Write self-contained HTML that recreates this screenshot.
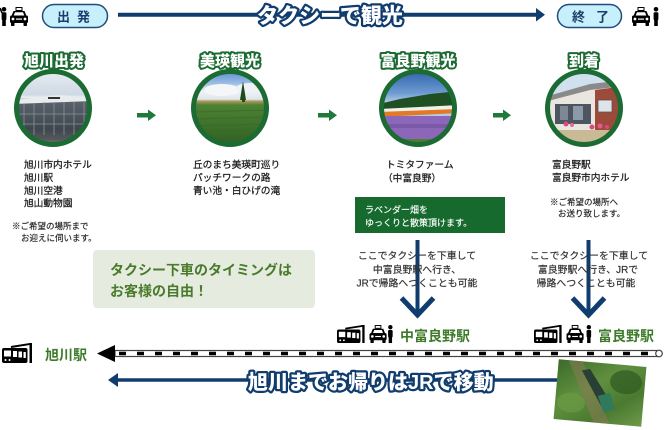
<!DOCTYPE html>
<html><head><meta charset="utf-8"><style>
html,body{margin:0;padding:0;background:#fff;}
svg{display:block;}
text{font-family:"Liberation Sans","Noto Sans CJK JP",sans-serif;}
</style></head><body>
<svg width="664" height="430" viewBox="0 0 664 430" xmlns="http://www.w3.org/2000/svg">
<defs>
<clipPath id="c1"><circle cx="53" cy="108" r="36.5"/></clipPath>
<clipPath id="c2"><circle cx="230" cy="108" r="36.5"/></clipPath>
<clipPath id="c3"><circle cx="418" cy="108" r="36.5"/></clipPath>
<clipPath id="c4"><circle cx="584" cy="108" r="36.5"/></clipPath>
<linearGradient id="g1" x1="0" y1="0" x2="0" y2="1">
<stop offset="0" stop-color="#e9eff5"/><stop offset="0.32" stop-color="#cfd9e4"/>
<stop offset="0.36" stop-color="#eef0f2"/><stop offset="0.40" stop-color="#5b636c"/>
<stop offset="0.75" stop-color="#3f464e"/><stop offset="0.88" stop-color="#55585b"/><stop offset="1" stop-color="#9a9b9a"/>
</linearGradient>
<linearGradient id="g2" x1="0" y1="0" x2="0" y2="1">
<stop offset="0" stop-color="#4f86cc"/><stop offset="0.18" stop-color="#9cbde6"/>
<stop offset="0.28" stop-color="#eef2f6"/><stop offset="0.38" stop-color="#dfe6ea"/>
<stop offset="0.40" stop-color="#b49a62"/><stop offset="0.45" stop-color="#4c8233"/>
<stop offset="1" stop-color="#2e5d22"/>
</linearGradient>
<linearGradient id="g3" x1="0" y1="0" x2="0" y2="1">
<stop offset="0" stop-color="#2b5ea6"/><stop offset="0.3" stop-color="#6d9bd2"/>
<stop offset="0.42" stop-color="#b4cde6"/><stop offset="1" stop-color="#b4cde6"/>
</linearGradient>
<linearGradient id="g5" x1="0" y1="0" x2="1" y2="1">
<stop offset="0" stop-color="#3d6b2a"/><stop offset="0.4" stop-color="#5f8f3e"/>
<stop offset="0.7" stop-color="#4a7a30"/><stop offset="1" stop-color="#6f9a4a"/>
</linearGradient>
<g id="taxi">
<rect x="6" y="0.5" width="6" height="3" fill="#fff" stroke="#000" stroke-width="1"/>
<path d="M3.5,4 H14.5 L16.5,9 H1.5 Z" fill="#000"/>
<path d="M5,5.3 H13 L14.3,8.5 H3.7 Z" fill="#fff"/>
<rect x="0" y="8.5" width="18" height="7.5" rx="1.5" fill="#000"/>
<circle cx="3" cy="12" r="1.4" fill="#fff"/>
<circle cx="15" cy="12" r="1.4" fill="#fff"/>
<rect x="6" y="11.5" width="6" height="1.2" fill="#fff"/>
<rect x="1" y="15" width="3.5" height="4" rx="0.8" fill="#000"/>
<rect x="13.5" y="15" width="3.5" height="4" rx="0.8" fill="#000"/>
</g>
<g id="person">
<circle cx="3" cy="2.3" r="2.3" fill="#000"/>
<rect x="0.6" y="5.2" width="4.8" height="8" rx="1.2" fill="#000"/>
<rect x="1.2" y="12" width="3.6" height="7" fill="#000"/>
</g>
<g id="train">
<path d="M9,4 L29,0.8" stroke="#000" stroke-width="2"/>
<rect x="27.5" y="0" width="2.5" height="20" fill="#000"/>
<rect x="0" y="5" width="25.5" height="15" rx="2" fill="#000"/>
<rect x="2" y="7.5" width="7" height="6" fill="#fff"/>
<rect x="11" y="8" width="4" height="6" fill="#fff"/>
<rect x="16.5" y="8.5" width="3.5" height="6" fill="#fff"/>
<rect x="21.5" y="9" width="2.3" height="6" fill="#fff"/>
<circle cx="3.5" cy="17" r="1" fill="#fff"/>
<circle cx="7.5" cy="17" r="1" fill="#fff"/>
</g>
</defs>

<!-- TOP BAR -->
<use href="#person" x="1" y="7"/>
<path d="M2,13 L0,8" stroke="#000" stroke-width="1.6"/>
<use href="#taxi" x="10" y="7"/>
<rect x="42.5" y="4.5" width="65" height="23" rx="11.5" fill="#c8effc" stroke="#1f4e7e" stroke-width="1.5"/>
<text x="57" y="21.5" font-size="13" font-weight="bold" fill="#1a3e6a">出</text>
<text x="77" y="21.5" font-size="13" font-weight="bold" fill="#1a3e6a">発</text>
<line x1="118" y1="14.7" x2="538" y2="14.7" stroke="#103c6e" stroke-width="4"/>
<polygon points="536,8 545,14.7 536,21.5" fill="#103c6e"/>
<text x="330" y="23" font-size="21" font-weight="900" fill="#fff" stroke="#103c6e" stroke-width="4.5" stroke-linejoin="round" paint-order="stroke" text-anchor="middle">タクシーで観光</text>
<rect x="557.5" y="4.5" width="64" height="23" rx="11.5" fill="#c8effc" stroke="#1f4e7e" stroke-width="1.5"/>
<text x="572" y="21.5" font-size="13" font-weight="bold" fill="#1a3e6a">終</text>
<text x="596" y="21.5" font-size="13" font-weight="bold" fill="#1a3e6a">了</text>
<use href="#taxi" x="632" y="7"/>
<use href="#person" x="653" y="7"/>

<!-- HEADINGS -->
<g font-size="15" font-weight="900" fill="#fff" stroke="#1b6b33" stroke-width="4" stroke-linejoin="round" paint-order="stroke" text-anchor="middle">
<text x="54" y="66">旭川出発</text>
<text x="230" y="66">美瑛観光</text>
<text x="418" y="66">富良野観光</text>
<text x="584" y="66">到着</text>
</g>

<!-- PHOTO 1 -->
<g clip-path="url(#c1)">
<rect x="14" y="69" width="80" height="80" fill="url(#g1)"/>
<polygon points="14,100 60,95 94,98 94,101 14,104" fill="#e8ecef"/>
<g stroke="#8a939c" stroke-width="0.8">
<line x1="24" y1="104" x2="24" y2="135"/><line x1="34" y1="103" x2="34" y2="135"/>
<line x1="44" y1="102" x2="44" y2="135"/><line x1="54" y1="102" x2="54" y2="135"/>
<line x1="64" y1="102" x2="64" y2="135"/><line x1="74" y1="102" x2="74" y2="135"/>
<line x1="84" y1="102" x2="84" y2="135"/>
<line x1="14" y1="114" x2="94" y2="114"/><line x1="14" y1="124" x2="94" y2="124"/>
</g>
<rect x="48" y="97" width="12" height="2" fill="#333"/>
</g>
<circle cx="53" cy="108" r="36.5" fill="none" stroke="#1b6b33" stroke-width="5"/>

<!-- PHOTO 2 -->
<g clip-path="url(#c2)">
<rect x="191" y="69" width="80" height="80" fill="url(#g2)"/>
<ellipse cx="222" cy="90" rx="18" ry="6" fill="#f4f6f8"/>
<ellipse cx="250" cy="88" rx="14" ry="5" fill="#eef2f6"/>
<polygon points="243,81 246,100 240,100" fill="#1f4a1c"/>
<rect x="242" y="96" width="3" height="6" fill="#1f4a1c"/>
<g stroke="#3a6c28" stroke-width="1.2" opacity="0.7">
<line x1="191" y1="112" x2="271" y2="110"/><line x1="191" y1="119" x2="271" y2="117"/>
<line x1="191" y1="126" x2="271" y2="124"/><line x1="191" y1="133" x2="271" y2="131"/>
</g>
<polygon points="220,149 271,132 271,149" fill="#b38f5f"/>
</g>
<circle cx="230" cy="108" r="36.5" fill="none" stroke="#1b6b33" stroke-width="5"/>

<!-- PHOTO 3 -->
<g clip-path="url(#c3)">
<rect x="379" y="69" width="80" height="80" fill="url(#g3)"/>
<polygon points="379,104 400,99 430,94 459,91 459,108 379,112" fill="#1f4f22"/>
<polygon points="379,109 459,105 459,110 379,114" fill="#f2f0ea"/>
<polygon points="379,112 459,109 459,113 379,117" fill="#e07a26"/>
<rect x="379" y="116" width="80" height="24" fill="#8c66b8"/>
<rect x="379" y="124" width="80" height="4" fill="#7a59a8"/>
<rect x="379" y="139" width="80" height="10" fill="#4f7d35"/>
</g>
<circle cx="418" cy="108" r="36.5" fill="none" stroke="#1b6b33" stroke-width="5"/>

<!-- PHOTO 4 -->
<g clip-path="url(#c4)">
<rect x="545" y="69" width="80" height="80" fill="#cfe0ef"/>
<polygon points="548,96 590,84 625,80 625,132 548,132" fill="#e9e6e0"/>
<polygon points="548,96 590,84 625,80 625,86 590,90 548,101" fill="#8a8a8a"/>
<polygon points="595,90 625,86 625,132 595,132" fill="#9c4b3b"/>
<rect x="598" y="100" width="14" height="12" fill="#dfe4e8" stroke="#555" stroke-width="0.8"/>
<rect x="555" y="104" width="36" height="20" fill="#4d5560"/>
<rect x="560" y="106" width="8" height="14" fill="#7c8895"/>
<rect x="573" y="106" width="10" height="14" fill="#8c99a6"/>
<circle cx="566" cy="124" r="2.5" fill="#d94a7a"/><circle cx="572" cy="125" r="2" fill="#e86a9a"/>
<circle cx="592" cy="127" r="2.5" fill="#d94a7a"/><circle cx="600" cy="126" r="2.5" fill="#e45a8a"/><circle cx="607" cy="127" r="2" fill="#d94a7a"/>
<rect x="545" y="130" width="80" height="20" fill="#c9b996"/>
</g>
<circle cx="584" cy="108" r="36.5" fill="none" stroke="#1b6b33" stroke-width="5"/>

<!-- GREEN ARROWS -->
<g fill="#1d7a3a">
<rect x="137" y="113" width="12" height="4.5"/><polygon points="148,109.5 156,115.2 148,121"/>
<rect x="318" y="113" width="12" height="4.5"/><polygon points="329,109.5 337,115.2 329,121"/>
<rect x="493" y="113" width="11" height="4.5"/><polygon points="503,109.5 511,115.2 503,121"/>
</g>

<!-- BODY TEXT -->
<g font-size="9.7" fill="#1a1a1a" stroke="#1a1a1a" stroke-width="0.25">
<text x="24" y="168">旭川市内ホテル</text>
<text x="24" y="181">旭川駅</text>
<text x="24" y="194">旭川空港</text>
<text x="24" y="206.5">旭山動物園</text>
<text x="193" y="168">丘のまち美瑛町巡り</text>
<text x="193" y="181">パッチワークの路</text>
<text x="193" y="194">青い池・白ひげの滝</text>
<text x="386" y="168">トミタファーム</text>
<text x="383" y="181.5">（中富良野）</text>
<text x="552" y="168">富良野駅</text>
<text x="552" y="181">富良野市内ホテル</text>
</g>
<g font-size="8.5" fill="#222" stroke="#222" stroke-width="0.15">
<text x="12" y="229">※ご希望の場所まで</text>
<text x="21" y="241">お迎えに伺います。</text>
<text x="550" y="205">※ご希望の場所へ</text>
<text x="558" y="216.5">お送り致します。</text>
</g>

<!-- GREEN INFO BOX -->
<rect x="355" y="197" width="150" height="36" fill="#166a2e"/>
<g font-size="9" fill="#fff" stroke="#fff" stroke-width="0.15">
<text x="365" y="213">ラベンダー畑を</text>
<text x="365" y="226">ゆっくりと散策頂けます。</text>
</g>

<!-- LIGHT BOX -->
<rect x="93" y="250" width="222" height="58" rx="4" fill="#e5ecdf"/>
<g font-size="14" font-weight="bold" fill="#4a7a2b">
<text x="110" y="275">タクシー下車のタイミングは</text>
<text x="110" y="296">お客様の自由！</text>
</g>

<!-- DOWN ARROWS -->
<g stroke="#103c6e" fill="none">
<line x1="417.5" y1="240" x2="417.5" y2="314" stroke-width="4"/>
<polyline points="401.5,298 417.5,315 433.5,298" stroke-width="5"/>
<line x1="588.5" y1="240" x2="588.5" y2="314" stroke-width="4"/>
<polyline points="572.5,298 588.5,315 604.5,298" stroke-width="5"/>
</g>
<g font-size="9.9" fill="#333" stroke="#333" stroke-width="0.2" text-anchor="middle">
<text x="417" y="259">ここでタクシーを下車して</text>
<text x="417" y="273">中富良野駅へ行き、</text>
<text x="417" y="286.5">JRで帰路へつくことも可能</text>
<text x="589" y="259">ここでタクシーを下車して</text>
<text x="588" y="273">富良野駅へ行き、JRで</text>
<text x="586" y="286.5">帰路へつくことも可能</text>
</g>

<!-- STATIONS -->
<use href="#train" transform="translate(337,325) scale(0.92,0.9)"/>
<use href="#taxi" transform="translate(369.5,325) scale(0.95)"/>
<use href="#person" transform="translate(387.5,325) scale(0.95)"/>
<use href="#train" transform="translate(534,325) scale(0.92,0.9)"/>
<use href="#taxi" transform="translate(566.5,325) scale(0.95)"/>
<use href="#person" transform="translate(586,325) scale(0.95)"/>
<g font-size="14" font-weight="bold" fill="#3d7b2a">
<text x="400" y="341">中富良野駅</text>
<text x="598" y="341">富良野駅</text>
<text x="45" y="360">旭川駅</text>
</g>
<use href="#train" x="2" y="343"/>

<!-- RAIL -->
<rect x="115" y="350.5" width="542" height="6" fill="#fff" stroke="#444" stroke-width="1.2"/>
<line x1="119" y1="353.5" x2="655" y2="353.5" stroke="#000" stroke-width="3.5" stroke-dasharray="7 11"/>
<circle cx="659" cy="353.5" r="3.3" fill="#fff" stroke="#444" stroke-width="1.2"/>
<polygon points="97,353.5 115,345 115,362" fill="#000"/>

<!-- BOTTOM ARROW -->
<line x1="114" y1="380" x2="560" y2="380" stroke="#103c6e" stroke-width="3.5"/>
<polygon points="108,380 118,373 118,387" fill="#103c6e"/>
<text x="248" y="389" font-size="20" font-weight="900" fill="#fff" stroke="#103c6e" stroke-width="4.5" stroke-linejoin="round" paint-order="stroke">旭川までお帰りはJRで移動</text>

<!-- BOTTOM PHOTO -->
<g transform="rotate(5 600 393)">
<rect x="556" y="363" width="88" height="60" fill="url(#g5)"/>
<polygon points="566,363 580,363 612,423 596,423" fill="#8a7a55" opacity="0.55"/>
<ellipse cx="625" cy="380" rx="16" ry="12" fill="#2f5a22" opacity="0.7"/>
<ellipse cx="572" cy="405" rx="14" ry="10" fill="#6c9a45" opacity="0.7"/>
<polygon points="580,372 588,370 612,402 603,407" fill="#2a3f33"/>
<polygon points="598,396 610,392 616,408 605,412" fill="#2f7a5a"/>
</g>
</svg>
</body></html>
